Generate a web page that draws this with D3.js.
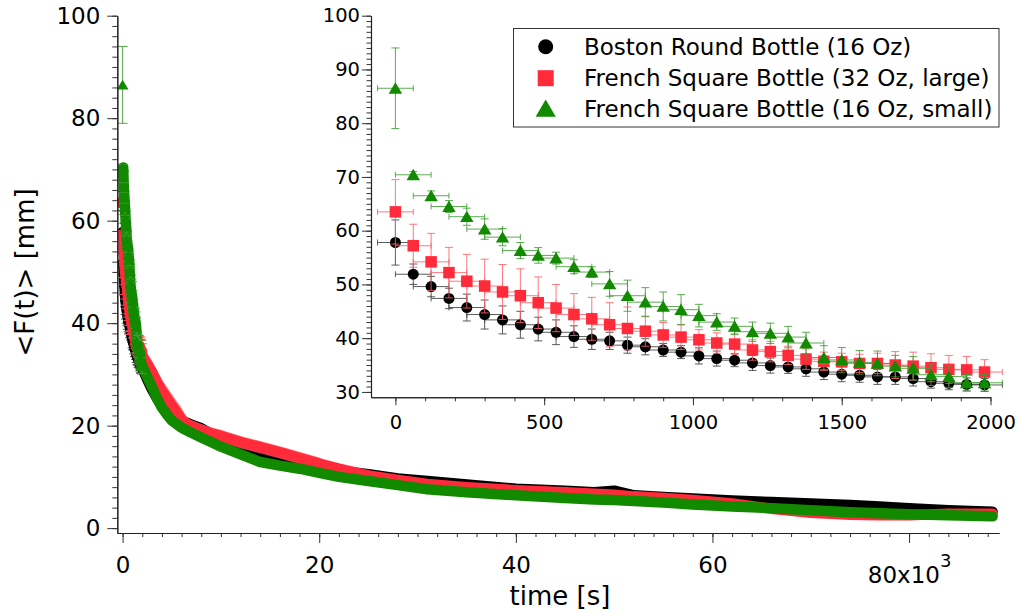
<!DOCTYPE html>
<html><head><meta charset="utf-8">
<script src="https://cdn.jsdelivr.net/npm/d3@7"></script>
<style>
body{margin:0;background:#fff}
svg{display:block;font-family:"DejaVu Sans",sans-serif}
</style></head><body>
<svg id="chart" width="1020" height="613"></svg>
<script>
// ---------------- data ----------------
const seriesNames = ["Boston Round Bottle (16 Oz)", "French Square Bottle (32 Oz, large)", "French Square Bottle (16 Oz, small)"];
const seriesColors = ["#000000", "#ff2a3a", "#118a00"];
const barColors = ["#404040", "#ff6068", "#3f9d34"];
const seriesShapes = ["circle", "square", "triangle"];

// first 2000 s (inset), seconds
const insetTime = [0,60,120,180,240,300,360,420,480,540,600,660,720,780,840,900,960,1020,1080,1140,1200,1260,1320,1380,1440,1500,1560,1620,1680,1740,1800,1860,1920,1980];
const timeErr = 60;
const bostonInset = [57.8,51.9,49.6,47.4,45.7,44.4,43.4,42.5,41.7,41.1,40.3,39.8,39.5,38.7,38.4,37.8,37.4,36.7,36.2,35.9,35.4,34.9,34.65,34.3,33.7,33.3,33.1,32.8,32.8,32.5,31.9,31.6,31.4,31.3];
const bostonInsetErr = [4.2,1.9,1.9,1.9,2.5,2.7,2.6,2.5,2.2,2.3,2.0,1.9,1.6,1.5,1.5,1.2,1.2,1.5,1.4,1.2,1.4,1.4,1.2,1.4,1.4,1.4,1.3,1.4,1.4,1.4,1.2,1.2,1.2,1.2];
const largeInset = [63.5,57.2,54.2,52.2,50.6,49.7,48.6,47.9,46.6,45.6,44.4,43.6,42.5,41.8,41.3,40.6,40.2,39.7,39.1,38.9,37.8,37.5,36.8,36.1,35.7,35.6,35.3,35.3,35.0,34.8,34.5,34.2,34.1,33.7];
const largeInsetErr = [6.0,4.0,5.3,4.7,5.0,5.0,5.1,5.0,4.8,4.4,3.9,4.0,4.1,4.0,2.8,2.3,2.3,1.9,1.9,1.9,1.9,1.9,1.7,1.9,1.7,1.6,1.7,1.9,2.5,2.6,2.6,2.6,2.5,2.3];
const smallInset = [86.5,70.4,66.5,64.5,62.6,60.3,58.8,56.3,55.4,54.9,53.3,52.3,50.1,47.9,46.7,45.9,45.3,44.2,43.0,42.2,41.2,40.9,40.2,39.1,36.4,35.95,35.5,35.3,34.8,34.4,33.2,32.85,31.7,31.7];
const smallInsetErr = [7.5,0.6,0.9,1.1,1.6,1.9,1.6,1.5,1.45,1.1,1.3,1.0,2.3,2.9,2.7,2.7,2.8,2.1,1.55,1.55,1.8,1.9,2.0,2.0,2.2,2.3,2.2,2.3,2.0,2.2,2.0,2.0,1.55,1.55];

// rest of the run (main plot), seconds
const longTime = [2500,3000,3500,4000,4500,5000,5500,6000,6500,7000,8000,9000,10000,12000,14000,16000,18000,20000,22000,25000,28000,31000,35000,40000,45000,48000,50000,52000,55000,58000,62000,66000,70000,74000,77000,80000,84000,88500];
const bostonLong = [29.0,27.0,25.3,24.0,23.0,22.2,21.5,21.0,20.6,20.2,19.5,18.4,17.4,16.0,14.8,13.7,12.7,11.8,11.2,10.5,9.7,9.2,8.5,7.7,7.3,7.0,7.3,6.4,6.1,5.8,5.4,5.1,4.8,4.5,4.2,3.9,3.5,3.2];
const bostonLongErr = [1.0,1.0,1.0,1.0,1.0,1.0,1.0,1.0,0.7,0.7,0.7,0.7,0.7,0.7,0.7,0.7,0.7,0.7,0.5,0.5,0.5,0.5,0.5,0.5,0.5,0.5,0.5,0.5,0.5,0.5,0.5,0.5,0.5,0.5,0.5,0.5,0.5,0.5];
const largeLong = [32.0,30.5,28.5,26.8,25.4,24.0,22.6,21.3,20.4,19.9,19.1,18.5,18.0,16.8,15.8,14.8,13.7,12.6,11.6,10.3,9.4,8.6,8.0,7.4,7.0,6.7,6.5,6.2,5.9,5.5,4.8,3.8,3.0,2.6,2.5,2.5,2.8,2.8];
const largeLongErr = [2.2,2.2,2.2,2.2,2.2,2.2,2.2,2.2,1.2,1.2,1.2,1.2,1.2,1.2,1.2,1.2,1.2,1.2,0.5,0.5,0.5,0.5,0.5,0.5,0.5,0.5,0.5,0.5,0.5,0.5,0.5,0.5,0.5,0.5,0.5,0.5,0.5,0.5];
const smallLong = [29.5,27.5,25.3,23.5,22.2,21.0,20.3,19.6,19.1,18.6,17.7,16.8,15.9,14.4,12.9,12.2,11.6,10.8,10.0,9.2,8.4,7.6,7.0,6.4,5.9,5.6,5.5,5.3,5.0,4.6,4.2,3.9,3.5,3.1,2.9,2.7,2.5,2.3];
const smallLongErr = [1.2,1.2,1.2,1.2,1.2,1.2,1.2,1.2,0.8,0.8,0.8,0.8,0.8,0.8,0.8,0.8,0.8,0.8,0.5,0.5,0.5,0.5,0.5,0.5,0.5,0.5,0.5,0.5,0.5,0.5,0.5,0.5,0.5,0.5,0.5,0.5,0.5,0.5];

// ticks
const mainYTicks = [0,20,40,60,80,100];
const mainXTicks = [0,20000,40000,60000,80000];
const mainXTickLabels = ["0","20","40","60","80x10"];
const mainXExponent = "3";
const insetYTicks = [30,40,50,60,70,80,90,100];
const insetXTicks = [0,500,1000,1500,2000];
const insetXTickLabels = ["0","500","1000","1500","2000"];
const yTitle = "<F(t)> [mm]";
const xTitle = "time [s]";

// ---------------- drawing ----------------
const FONT = "DejaVu Sans";
const svg = d3.select("#chart");

const x = d3.scaleLinear().domain([-540, 89150]).range([117.3, 999]);
const y = d3.scaleLinear().domain([-0.95, 100]).range([533, 15.7]);
const xi = d3.scaleLinear().domain([-82, 2000]).range([371, 990.5]);
const yi = d3.scaleLinear().domain([29.0, 100]).range([397.3, 15.7]);

const series = [
  {inV: bostonInset, inE: bostonInsetErr, lV: bostonLong, lE: bostonLongErr},
  {inV: largeInset, inE: largeInsetErr, lV: largeLong, lE: largeLongErr},
  {inV: smallInset, inE: smallInsetErr, lV: smallLong, lE: smallLongErr}
].map((s, i) => Object.assign(s, {name: seriesNames[i], color: seriesColors[i], bar: barColors[i], shape: seriesShapes[i]}));

function marker(g, shape, cx, cy, s, color) {
  if (shape === "circle") g.append("circle").attr("cx", cx).attr("cy", cy).attr("r", s / 2).attr("fill", color);
  else if (shape === "square") g.append("rect").attr("x", cx - s / 2).attr("y", cy - s / 2).attr("width", s).attr("height", s).attr("fill", color);
  else g.append("path").attr("d", `M${cx - s * 0.56},${cy + s * 0.45}L${cx + s * 0.56},${cy + s * 0.45}L${cx},${cy - s * 0.5}Z`).attr("fill", color);
}

function errBars(g, xs, ys, t, v, e, xe, color, capV, capH, op) {
  const gg = g.append("g").attr("stroke", color).attr("stroke-width", 1).attr("stroke-opacity", op).attr("fill", "none");
  const cx = xs(t), y0 = ys(v - e), y1 = ys(v + e), cy = ys(v);
  gg.append("line").attr("x1", cx).attr("x2", cx).attr("y1", y0).attr("y2", y1);
  gg.append("line").attr("x1", cx - capV / 2).attr("x2", cx + capV / 2).attr("y1", y0).attr("y2", y0);
  gg.append("line").attr("x1", cx - capV / 2).attr("x2", cx + capV / 2).attr("y1", y1).attr("y2", y1);
  if (xe) {
    const x0 = xs(t - xe), x1 = xs(t + xe);
    gg.append("line").attr("x1", x0).attr("x2", x1).attr("y1", cy).attr("y2", cy);
    gg.append("line").attr("x1", x0).attr("x2", x0).attr("y1", cy - capH / 2).attr("y2", cy + capH / 2);
    gg.append("line").attr("x1", x1).attr("x2", x1).attr("y1", cy - capH / 2).attr("y2", cy + capH / 2);
  }
}

// ----- main plot -----
const gMain = svg.append("g");
series.forEach(s => {
  const pts = insetTime.map((t, i) => ({t, v: s.inV[i], e: s.inE[i]}))
    .concat(longTime.map((t, i) => ({t, v: s.lV[i], e: s.lE[i]})));
  const band = pts.slice(1);
  gMain.append("path").datum(band)
    .attr("d", d3.area().x(d => x(d.t)).y0(d => y(d.v - d.e)).y1(d => y(d.v + d.e)))
    .attr("fill", s.bar).attr("fill-opacity", 0.8);
  gMain.append("path").datum(band)
    .attr("d", d3.line().x(d => x(d.t)).y(d => y(d.v)))
    .attr("fill", "none").attr("stroke", s.color).attr("stroke-width", 10.5)
    .attr("stroke-linejoin", "round").attr("stroke-linecap", "round");
  insetTime.forEach((t, i) => errBars(gMain, x, y, t, s.inV[i], s.inE[i], timeErr, s.bar, 10, 5, 0.9));
  insetTime.forEach((t, i) => marker(gMain, s.shape, x(t), y(s.inV[i]), 10.5, s.color));
});

function styleAxis(g, fs) {
  g.attr("font-family", FONT).attr("font-size", fs);
  g.select(".domain").attr("stroke", "#222").attr("stroke-width", 1.1);
  g.selectAll(".tick line").attr("stroke", "#333");
  g.selectAll(".tick text").attr("fill", "#000");
}

svg.append("g").attr("transform", "translate(0,533)")
  .call(d3.axisBottom(x).tickValues(d3.range(0, 89001, 2000)).tickSize(4).tickSizeOuter(0).tickFormat(""))
  .call(g => styleAxis(g, 23));
const gMainX = svg.append("g").attr("transform", "translate(0,533)")
  .call(d3.axisBottom(x).tickValues(mainXTicks).tickSize(10).tickSizeOuter(0).tickPadding(14).tickFormat((d, i) => mainXTickLabels[i]))
  .call(g => styleAxis(g, 23));
gMainX.selectAll(".tick text").filter(d => d === 80000).each(function () {
  const t = d3.select(this);
  t.text(null).attr("y", 34);
  t.append("tspan").text(mainXTickLabels[4]);
  t.append("tspan").text(mainXExponent).attr("font-size", 18).attr("dy", -16.5);
});

svg.append("g").attr("transform", "translate(117.3,0)")
  .call(d3.axisLeft(y).tickValues(d3.range(0, 101, 2)).tickSize(5).tickSizeOuter(0).tickFormat(""))
  .call(g => styleAxis(g, 23));
svg.append("g").attr("transform", "translate(117.3,0)")
  .call(d3.axisLeft(y).tickValues(mainYTicks).tickSize(10).tickSizeOuter(0).tickPadding(7))
  .call(g => styleAxis(g, 23));

// ----- inset -----
const gIn = svg.append("g");
series.forEach(s => {
  insetTime.forEach((t, i) => errBars(gIn, xi, yi, t, s.inV[i], s.inE[i], timeErr, s.bar, 8, 6, 0.85));
  const sz = s.shape === "circle" ? 11 : (s.shape === "square" ? 11.5 : 12);
  insetTime.forEach((t, i) => marker(gIn, s.shape, xi(t), yi(s.inV[i]), sz, s.color));
});

svg.append("g").attr("transform", "translate(0,397.3)")
  .call(d3.axisBottom(xi).tickValues(d3.range(0, 2001, 100)).tickSize(4).tickSizeOuter(0).tickFormat(""))
  .call(g => styleAxis(g, 19.5));
svg.append("g").attr("transform", "translate(0,397.3)")
  .call(d3.axisBottom(xi).tickValues(insetXTicks).tickSize(8).tickSizeOuter(0).tickPadding(10).tickFormat((d, i) => insetXTickLabels[i]))
  .call(g => styleAxis(g, 19.5));
svg.append("g").attr("transform", "translate(371,0)")
  .call(d3.axisLeft(yi).tickValues(d3.range(30, 101, 1)).tickSize(4.5).tickSizeOuter(0).tickFormat(""))
  .call(g => styleAxis(g, 19.5));
svg.append("g").attr("transform", "translate(371,0)")
  .call(d3.axisLeft(yi).tickValues(insetYTicks).tickSize(9).tickSizeOuter(0).tickPadding(2))
  .call(g => styleAxis(g, 19.5));

// ----- legend -----
const gLeg = svg.append("g");
gLeg.append("rect").attr("x", 513.5).attr("y", 28.5).attr("width", 485.5).attr("height", 98.5)
  .attr("fill", "#fff").attr("stroke", "#333").attr("stroke-width", 1);
const legRows = [46.7, 78.2, 108.6];
const legSizes = [15, 16, 18];
series.forEach((s, i) => {
  marker(gLeg, s.shape, 545.7, legRows[i], legSizes[i], s.color);
  gLeg.append("text").attr("x", 584).attr("y", legRows[i]).attr("dy", "0.36em")
    .attr("font-family", FONT).attr("font-size", 23).attr("fill", "#000").text(s.name);
});

// ----- titles -----
svg.append("text").attr("transform", "translate(34,272.5) rotate(-90)")
  .attr("text-anchor", "middle").attr("font-family", FONT).attr("font-size", 26).attr("fill", "#000").text(yTitle);
svg.append("text").attr("x", 560).attr("y", 605)
  .attr("text-anchor", "middle").attr("font-family", FONT).attr("font-size", 26).attr("fill", "#000").text(xTitle);
</script>
</body></html>
